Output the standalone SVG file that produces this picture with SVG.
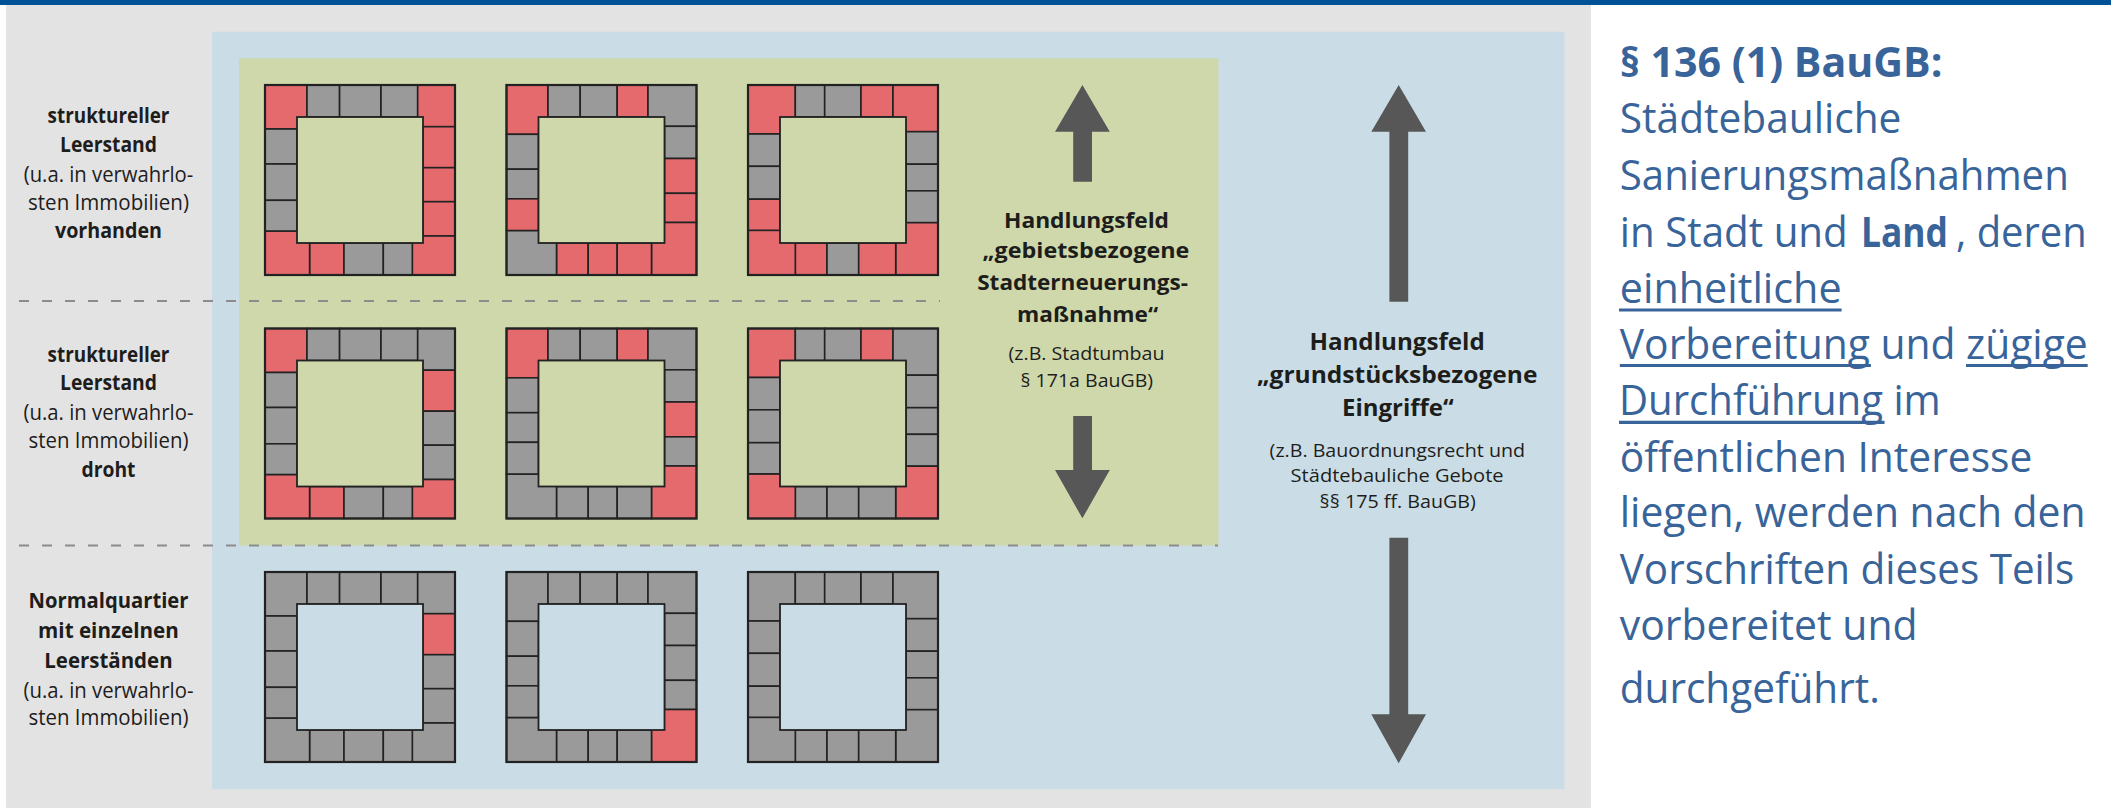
<svg xmlns="http://www.w3.org/2000/svg" width="2111" height="808" viewBox="0 0 2111 808">
<style>
.r{fill:#e46a6e;stroke:#222;stroke-width:1.6}
.g{fill:#999a99;stroke:#222;stroke-width:1.6}
.ig{fill:#cfd8ab;stroke:#222;stroke-width:1.8}
.ib{fill:#cadde6;stroke:#222;stroke-width:1.8}
.ol{fill:none;stroke:#222;stroke-width:2.2}
.lab{font-family:"Open Sans","Noto Sans","Liberation Sans",sans-serif;font-size:21px;fill:#1d1d1b}
.b{font-weight:700}
.mid{font-family:"Open Sans","Noto Sans","Liberation Sans",sans-serif;font-weight:700;font-size:22px;fill:#1d1d1b}
.big{font-family:"Open Sans","Noto Sans","Liberation Sans",sans-serif;font-weight:700;font-size:23.5px;fill:#1d1d1b}
.sm{font-family:"Open Sans","Noto Sans","Liberation Sans",sans-serif;font-size:18.5px;fill:#1d1d1b}
.rt{font-family:"Open Sans","Noto Sans","Liberation Sans",sans-serif;font-size:42px;fill:#38649a}
.ul{stroke:#38649a;stroke-width:3.2}
.dash{stroke:#8c8c8c;stroke-width:2;stroke-dasharray:10 13;fill:none}
.arr{fill:#575757}
</style>

<g id="background">
<rect x="0" y="0" width="2111" height="808" fill="#ffffff"/>
<rect x="6" y="5" width="1585" height="803" fill="#e4e3e4"/>
<rect x="212" y="31.7" width="1352.5" height="757.6" fill="#cadde6"/>
<rect x="239" y="58.3" width="979.5" height="487.2" fill="#cfd8ab"/>
<rect x="0" y="0" width="2111" height="5" fill="#005195"/>
</g>

<g id="dividers">
<line class="dash" x1="19" y1="301" x2="940" y2="301"/>
<line class="dash" x1="19" y1="545.5" x2="1218" y2="545.5"/>
</g>

<!-- Row 1 -->
<g id="block-r1c1" transform="translate(265,85)">
<rect class="r" x="0" y="0" width="42" height="44"/>
<rect class="g" x="42" y="0" width="32.6" height="32"/>
<rect class="g" x="74.6" y="0" width="41.4" height="32"/>
<rect class="g" x="116" y="0" width="36.7" height="32"/>
<rect class="r" x="152.7" y="0" width="37.3" height="41.7"/>
<rect class="r" x="158" y="41.7" width="32" height="41"/>
<rect class="r" x="158" y="82.7" width="32" height="34"/>
<rect class="r" x="158" y="116.7" width="32" height="34.3"/>
<rect class="r" x="147.3" y="151" width="42.7" height="39"/>
<rect class="r" x="44.6" y="158" width="34.4" height="32"/>
<rect class="g" x="79" y="158" width="39.3" height="32"/>
<rect class="g" x="118.3" y="158" width="29" height="32"/>
<rect class="r" x="0" y="146" width="44.6" height="44"/>
<rect class="g" x="0" y="44" width="32" height="35"/>
<rect class="g" x="0" y="79" width="32" height="36.3"/>
<rect class="g" x="0" y="115.3" width="32" height="30.7"/>
<rect class="ig" x="32" y="32" width="126" height="126"/>
<rect class="ol" x="0" y="0" width="190" height="190"/>
</g>

<g id="block-r1c2" transform="translate(506.5,85)">
<rect class="r" x="0" y="0" width="41.5" height="49.3"/>
<rect class="g" x="41.5" y="0" width="32.2" height="32"/>
<rect class="g" x="73.7" y="0" width="37" height="32"/>
<rect class="r" x="110.7" y="0" width="30.8" height="32"/>
<rect class="g" x="141.5" y="0" width="48.5" height="41.3"/>
<rect class="g" x="158" y="41.3" width="32" height="32.2"/>
<rect class="r" x="158" y="73.5" width="32" height="34.8"/>
<rect class="r" x="158" y="108.3" width="32" height="29.2"/>
<rect class="r" x="145" y="137.5" width="45" height="52.5"/>
<rect class="r" x="50" y="158" width="31.7" height="32"/>
<rect class="r" x="81.7" y="158" width="29" height="32"/>
<rect class="r" x="110.7" y="158" width="34.3" height="32"/>
<rect class="g" x="0" y="145.5" width="50" height="44.5"/>
<rect class="g" x="0" y="49.3" width="32" height="34.9"/>
<rect class="g" x="0" y="84.2" width="32" height="29.6"/>
<rect class="r" x="0" y="113.8" width="32" height="31.7"/>
<rect class="ig" x="32" y="32" width="126" height="126"/>
<rect class="ol" x="0" y="0" width="190" height="190"/>
</g>

<g id="block-r1c3" transform="translate(748,85)">
<rect class="r" x="0" y="0" width="47.3" height="49"/>
<rect class="g" x="47.3" y="0" width="29.4" height="32"/>
<rect class="g" x="76.7" y="0" width="36.3" height="32"/>
<rect class="r" x="113" y="0" width="32" height="32"/>
<rect class="r" x="145" y="0" width="45" height="46.7"/>
<rect class="g" x="158" y="46.7" width="32" height="32.5"/>
<rect class="g" x="158" y="79.2" width="32" height="26.6"/>
<rect class="g" x="158" y="105.8" width="32" height="31.9"/>
<rect class="r" x="147.7" y="137.7" width="42.3" height="52.3"/>
<rect class="r" x="47.3" y="158" width="31.7" height="32"/>
<rect class="g" x="79" y="158" width="31.7" height="32"/>
<rect class="r" x="110.7" y="158" width="37" height="32"/>
<rect class="r" x="0" y="145.3" width="47.3" height="44.7"/>
<rect class="g" x="0" y="49" width="32" height="32.3"/>
<rect class="g" x="0" y="81.3" width="32" height="32.9"/>
<rect class="r" x="0" y="114.2" width="32" height="31.1"/>
<rect class="ig" x="32" y="32" width="126" height="126"/>
<rect class="ol" x="0" y="0" width="190" height="190"/>
</g>

<!-- Row 2 -->
<g id="block-r2c1" transform="translate(265,328.5)">
<rect class="r" x="0" y="0" width="42" height="44"/>
<rect class="g" x="42" y="0" width="32.6" height="32"/>
<rect class="g" x="74.6" y="0" width="41.4" height="32"/>
<rect class="g" x="116" y="0" width="36.7" height="32"/>
<rect class="g" x="152.7" y="0" width="37.3" height="41.7"/>
<rect class="r" x="158" y="41.7" width="32" height="41"/>
<rect class="g" x="158" y="82.7" width="32" height="34"/>
<rect class="g" x="158" y="116.7" width="32" height="34.3"/>
<rect class="r" x="147.3" y="151" width="42.7" height="39"/>
<rect class="r" x="44.6" y="158" width="34.4" height="32"/>
<rect class="g" x="79" y="158" width="39.3" height="32"/>
<rect class="g" x="118.3" y="158" width="29" height="32"/>
<rect class="r" x="0" y="146" width="44.6" height="44"/>
<rect class="g" x="0" y="44" width="32" height="35"/>
<rect class="g" x="0" y="79" width="32" height="36.3"/>
<rect class="g" x="0" y="115.3" width="32" height="30.7"/>
<rect class="ig" x="32" y="32" width="126" height="126"/>
<rect class="ol" x="0" y="0" width="190" height="190"/>
</g>

<g id="block-r2c2" transform="translate(506.5,328.5)">
<rect class="r" x="0" y="0" width="41.5" height="49.3"/>
<rect class="g" x="41.5" y="0" width="32.2" height="32"/>
<rect class="g" x="73.7" y="0" width="37" height="32"/>
<rect class="r" x="110.7" y="0" width="30.8" height="32"/>
<rect class="g" x="141.5" y="0" width="48.5" height="41.3"/>
<rect class="g" x="158" y="41.3" width="32" height="32.2"/>
<rect class="r" x="158" y="73.5" width="32" height="34.8"/>
<rect class="g" x="158" y="108.3" width="32" height="29.2"/>
<rect class="r" x="145" y="137.5" width="45" height="52.5"/>
<rect class="g" x="50" y="158" width="31.7" height="32"/>
<rect class="g" x="81.7" y="158" width="29" height="32"/>
<rect class="g" x="110.7" y="158" width="34.3" height="32"/>
<rect class="g" x="0" y="145.5" width="50" height="44.5"/>
<rect class="g" x="0" y="49.3" width="32" height="34.9"/>
<rect class="g" x="0" y="84.2" width="32" height="29.6"/>
<rect class="g" x="0" y="113.8" width="32" height="31.7"/>
<rect class="ig" x="32" y="32" width="126" height="126"/>
<rect class="ol" x="0" y="0" width="190" height="190"/>
</g>

<g id="block-r2c3" transform="translate(748,328.5)">
<rect class="r" x="0" y="0" width="47.3" height="49"/>
<rect class="g" x="47.3" y="0" width="29.4" height="32"/>
<rect class="g" x="76.7" y="0" width="36.3" height="32"/>
<rect class="r" x="113" y="0" width="32" height="32"/>
<rect class="g" x="145" y="0" width="45" height="46.7"/>
<rect class="g" x="158" y="46.7" width="32" height="32.5"/>
<rect class="g" x="158" y="79.2" width="32" height="26.6"/>
<rect class="g" x="158" y="105.8" width="32" height="31.9"/>
<rect class="r" x="147.7" y="137.7" width="42.3" height="52.3"/>
<rect class="g" x="47.3" y="158" width="31.7" height="32"/>
<rect class="g" x="79" y="158" width="31.7" height="32"/>
<rect class="g" x="110.7" y="158" width="37" height="32"/>
<rect class="r" x="0" y="145.3" width="47.3" height="44.7"/>
<rect class="g" x="0" y="49" width="32" height="32.3"/>
<rect class="g" x="0" y="81.3" width="32" height="32.9"/>
<rect class="g" x="0" y="114.2" width="32" height="31.1"/>
<rect class="ig" x="32" y="32" width="126" height="126"/>
<rect class="ol" x="0" y="0" width="190" height="190"/>
</g>

<!-- Row 3 -->
<g id="block-r3c1" transform="translate(265,572)">
<rect class="g" x="0" y="0" width="42" height="44"/>
<rect class="g" x="42" y="0" width="32.6" height="32"/>
<rect class="g" x="74.6" y="0" width="41.4" height="32"/>
<rect class="g" x="116" y="0" width="36.7" height="32"/>
<rect class="g" x="152.7" y="0" width="37.3" height="41.7"/>
<rect class="r" x="158" y="41.7" width="32" height="41"/>
<rect class="g" x="158" y="82.7" width="32" height="34"/>
<rect class="g" x="158" y="116.7" width="32" height="34.3"/>
<rect class="g" x="147.3" y="151" width="42.7" height="39"/>
<rect class="g" x="44.6" y="158" width="34.4" height="32"/>
<rect class="g" x="79" y="158" width="39.3" height="32"/>
<rect class="g" x="118.3" y="158" width="29" height="32"/>
<rect class="g" x="0" y="146" width="44.6" height="44"/>
<rect class="g" x="0" y="44" width="32" height="35"/>
<rect class="g" x="0" y="79" width="32" height="36.3"/>
<rect class="g" x="0" y="115.3" width="32" height="30.7"/>
<rect class="ib" x="32" y="32" width="126" height="126"/>
<rect class="ol" x="0" y="0" width="190" height="190"/>
</g>

<g id="block-r3c2" transform="translate(506.5,572)">
<rect class="g" x="0" y="0" width="41.5" height="49.3"/>
<rect class="g" x="41.5" y="0" width="32.2" height="32"/>
<rect class="g" x="73.7" y="0" width="37" height="32"/>
<rect class="g" x="110.7" y="0" width="30.8" height="32"/>
<rect class="g" x="141.5" y="0" width="48.5" height="41.3"/>
<rect class="g" x="158" y="41.3" width="32" height="32.2"/>
<rect class="g" x="158" y="73.5" width="32" height="34.8"/>
<rect class="g" x="158" y="108.3" width="32" height="29.2"/>
<rect class="r" x="145" y="137.5" width="45" height="52.5"/>
<rect class="g" x="50" y="158" width="31.7" height="32"/>
<rect class="g" x="81.7" y="158" width="29" height="32"/>
<rect class="g" x="110.7" y="158" width="34.3" height="32"/>
<rect class="g" x="0" y="145.5" width="50" height="44.5"/>
<rect class="g" x="0" y="49.3" width="32" height="34.9"/>
<rect class="g" x="0" y="84.2" width="32" height="29.6"/>
<rect class="g" x="0" y="113.8" width="32" height="31.7"/>
<rect class="ib" x="32" y="32" width="126" height="126"/>
<rect class="ol" x="0" y="0" width="190" height="190"/>
</g>

<g id="block-r3c3" transform="translate(748,572)">
<rect class="g" x="0" y="0" width="47.3" height="49"/>
<rect class="g" x="47.3" y="0" width="29.4" height="32"/>
<rect class="g" x="76.7" y="0" width="36.3" height="32"/>
<rect class="g" x="113" y="0" width="32" height="32"/>
<rect class="g" x="145" y="0" width="45" height="46.7"/>
<rect class="g" x="158" y="46.7" width="32" height="32.5"/>
<rect class="g" x="158" y="79.2" width="32" height="26.6"/>
<rect class="g" x="158" y="105.8" width="32" height="31.9"/>
<rect class="g" x="147.7" y="137.7" width="42.3" height="52.3"/>
<rect class="g" x="47.3" y="158" width="31.7" height="32"/>
<rect class="g" x="79" y="158" width="31.7" height="32"/>
<rect class="g" x="110.7" y="158" width="37" height="32"/>
<rect class="g" x="0" y="145.3" width="47.3" height="44.7"/>
<rect class="g" x="0" y="49" width="32" height="32.3"/>
<rect class="g" x="0" y="81.3" width="32" height="32.9"/>
<rect class="g" x="0" y="114.2" width="32" height="31.1"/>
<rect class="ib" x="32" y="32" width="126" height="126"/>
<rect class="ol" x="0" y="0" width="190" height="190"/>
</g>

<!-- Row labels -->
<g id="label-row1">
<text class="lab b" x="47.6" y="123.3" textLength="121.8" lengthAdjust="spacingAndGlyphs">struktureller</text>
<text class="lab b" x="60" y="151.7" textLength="97" lengthAdjust="spacingAndGlyphs">Leerstand</text>
<text class="lab" x="23.7" y="181.7" textLength="169.6" lengthAdjust="spacingAndGlyphs">(u.a. in verwahrlo-</text>
<text class="lab" x="28" y="210" textLength="161" lengthAdjust="spacingAndGlyphs">sten Immobilien)</text>
<text class="lab b" x="55" y="238.3" textLength="107" lengthAdjust="spacingAndGlyphs">vorhanden</text>
</g>
<g id="label-row2">
<text class="lab b" x="47.6" y="361.7" textLength="121.8" lengthAdjust="spacingAndGlyphs">struktureller</text>
<text class="lab b" x="60" y="390" textLength="97" lengthAdjust="spacingAndGlyphs">Leerstand</text>
<text class="lab" x="23.5" y="420" textLength="170" lengthAdjust="spacingAndGlyphs">(u.a. in verwahrlo-</text>
<text class="lab" x="28.5" y="448.3" textLength="160" lengthAdjust="spacingAndGlyphs">sten Immobilien)</text>
<text class="lab b" x="81.5" y="476.7" textLength="54" lengthAdjust="spacingAndGlyphs">droht</text>
</g>
<g id="label-row3">
<text class="lab b" x="28.5" y="608.3" textLength="160" lengthAdjust="spacingAndGlyphs">Normalquartier</text>
<text class="lab b" x="38.1" y="638.3" textLength="140.7" lengthAdjust="spacingAndGlyphs">mit einzelnen</text>
<text class="lab b" x="44.3" y="668.3" textLength="128.3" lengthAdjust="spacingAndGlyphs">Leerständen</text>
<text class="lab" x="23.5" y="698.3" textLength="170" lengthAdjust="spacingAndGlyphs">(u.a. in verwahrlo-</text>
<text class="lab" x="28.5" y="725" textLength="160" lengthAdjust="spacingAndGlyphs">sten Immobilien)</text>
</g>

<!-- Arrows -->
<g id="arrows">
<polygon class="arr" points="1082.4,85 1109.8,131.7 1092,131.7 1092,181.7 1073.2,181.7 1073.2,131.7 1055,131.7"/>
<polygon class="arr" points="1073.2,416 1092,416 1092,470 1109.8,470 1082.4,518.3 1055,470 1073.2,470"/>
<polygon class="arr" points="1398.7,85 1426,131.7 1408.2,131.7 1408.2,301.7 1389.4,301.7 1389.4,131.7 1371.3,131.7"/>
<polygon class="arr" points="1389.4,537.7 1408.2,537.7 1408.2,714.3 1426,714.3 1398.7,763.3 1371.3,714.3 1389.4,714.3"/>
</g>

<g id="field-area">
<text class="mid" x="1004" y="228.3" textLength="165" lengthAdjust="spacingAndGlyphs">Handlungsfeld</text>
<text class="mid" x="982.6" y="258.3" textLength="206.7" lengthAdjust="spacingAndGlyphs">„gebietsbezogene</text>
<text class="mid" x="977.2" y="290" textLength="210.7" lengthAdjust="spacingAndGlyphs">Stadterneuerungs-</text>
<text class="mid" x="1017" y="321.7" textLength="141" lengthAdjust="spacingAndGlyphs">maßnahme“</text>
<text class="sm" x="1008.5" y="360" textLength="156" lengthAdjust="spacingAndGlyphs">(z.B. Stadtumbau</text>
<text class="sm" x="1020.5" y="386.7" textLength="132.6" lengthAdjust="spacingAndGlyphs">§ 171a BauGB)</text>
</g>

<g id="field-plot">
<text class="big" x="1309.4" y="350" textLength="175.4" lengthAdjust="spacingAndGlyphs">Handlungsfeld</text>
<text class="big" x="1257" y="383.3" textLength="280.4" lengthAdjust="spacingAndGlyphs">„grundstücksbezogene</text>
<text class="big" x="1342" y="415.7" textLength="111.6" lengthAdjust="spacingAndGlyphs">Eingriffe“</text>
<text class="sm" x="1269.6" y="456.7" textLength="255.4" lengthAdjust="spacingAndGlyphs">(z.B. Bauordnungsrecht und</text>
<text class="sm" x="1290.6" y="481.7" textLength="213" lengthAdjust="spacingAndGlyphs">Städtebauliche Gebote</text>
<text class="sm" x="1319.6" y="508.3" textLength="156.3" lengthAdjust="spacingAndGlyphs">§§ 175 ff. BauGB)</text>
</g>

<g id="legal-text">
<text class="rt b" x="1619.8" y="76.7" textLength="322.7" lengthAdjust="spacingAndGlyphs">§ 136 (1) BauGB:</text>
<text class="rt" x="1619.8" y="133.3" textLength="281.6" lengthAdjust="spacingAndGlyphs">Städtebauliche</text>
<text class="rt" x="1619.8" y="190" textLength="449" lengthAdjust="spacingAndGlyphs">Sanierungsmaßnahmen</text>
<text class="rt" x="1619.8" y="246.7" textLength="228" lengthAdjust="spacingAndGlyphs">in Stadt und</text>
<text class="rt b" x="1861" y="246.7" textLength="87" lengthAdjust="spacingAndGlyphs">Land</text>
<text class="rt" x="1956" y="246.7" textLength="130.7" lengthAdjust="spacingAndGlyphs">, deren</text>
<text class="rt" x="1619.8" y="302.5" textLength="221.8" lengthAdjust="spacingAndGlyphs">einheitliche</text>
<line class="ul" x1="1619" y1="310" x2="1841.6" y2="310"/>
<text class="rt" x="1619.8" y="359" textLength="467.9" lengthAdjust="spacingAndGlyphs">Vorbereitung und zügige</text>
<line class="ul" x1="1619.8" y1="365.5" x2="1870.9" y2="365.5"/>
<line class="ul" x1="1966" y1="365.5" x2="2087.7" y2="365.5"/>
<text class="rt" x="1619" y="415" textLength="321.7" lengthAdjust="spacingAndGlyphs">Durchführung im</text>
<line class="ul" x1="1619" y1="422.3" x2="1884.5" y2="422.3"/>
<text class="rt" x="1619.8" y="471.7" textLength="412.5" lengthAdjust="spacingAndGlyphs">öffentlichen Interesse</text>
<text class="rt" x="1619.8" y="526.7" textLength="465.8" lengthAdjust="spacingAndGlyphs">liegen, werden nach den</text>
<text class="rt" x="1619.8" y="584" textLength="454.4" lengthAdjust="spacingAndGlyphs">Vorschriften dieses Teils</text>
<text class="rt" x="1619.8" y="640" textLength="297.7" lengthAdjust="spacingAndGlyphs">vorbereitet und</text>
<text class="rt" x="1619.8" y="702.7" textLength="260" lengthAdjust="spacingAndGlyphs">durchgeführt.</text>
</g>
</svg>
